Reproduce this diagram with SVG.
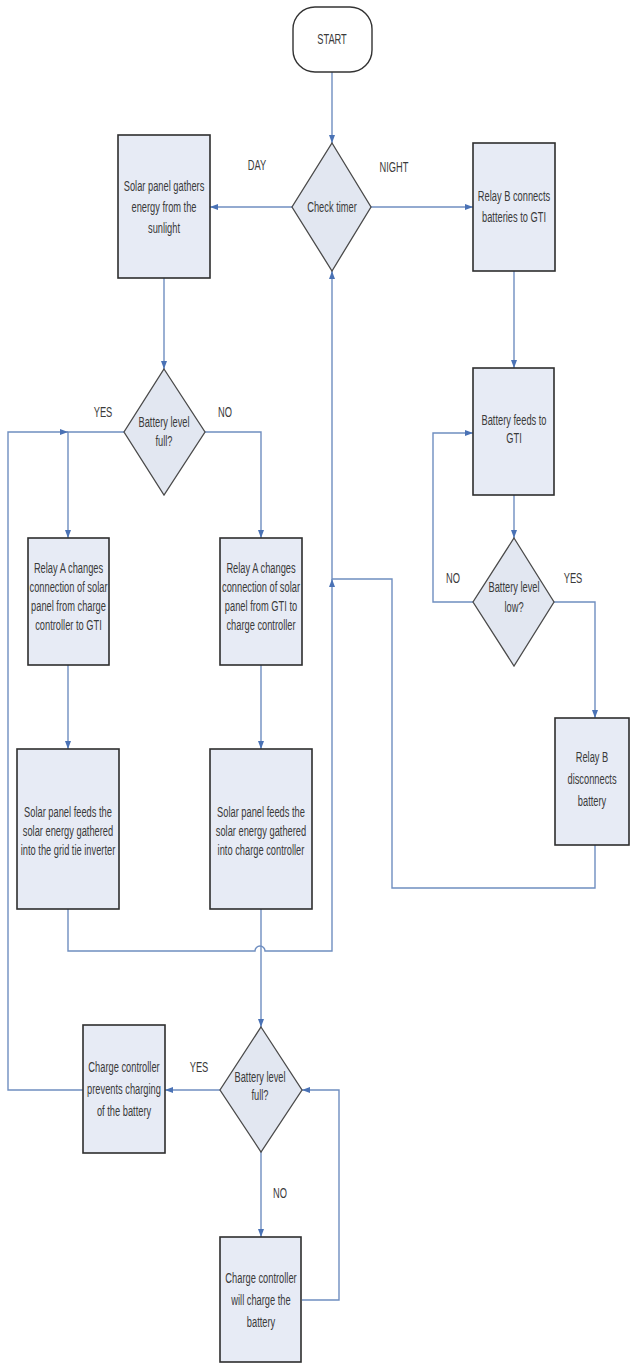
<svg xmlns="http://www.w3.org/2000/svg" width="630" height="1364" viewBox="0 0 630 1364">
<style>
.bg{fill:#ffffff}
.box{fill:#e7ebf5;stroke:#2e2e2e;stroke-width:1.6}
.dia{fill:#e2e7f1;stroke:#4a4a4a;stroke-width:1.3}
.term{fill:#ffffff;stroke:#333333;stroke-width:1.4}
.t{font-family:"Liberation Sans",Arial,sans-serif;font-size:15px;fill:#3a3a3a;text-anchor:middle}
.c{fill:none;stroke:#6f8ec0;stroke-width:1.4}
</style>
<defs>
<marker id="ah" viewBox="0 0 8 6" refX="8" refY="3" markerWidth="8" markerHeight="7" orient="auto" markerUnits="userSpaceOnUse">
<path d="M0 0 L8 3 L0 6 z" fill="#4a72b5"/>
</marker>
</defs>
<rect class="bg" x="0" y="0" width="630" height="1364"/>

<g id="connectors">
<path class="c" d="M332 72 V143" marker-end="url(#ah)"/>
<path class="c" d="M292 207 H210" marker-end="url(#ah)"/>
<path class="c" d="M371 207 H473" marker-end="url(#ah)"/>
<path class="c" d="M164 278 V369" marker-end="url(#ah)"/>
<path class="c" d="M124 432 H68 V538" marker-end="url(#ah)"/>
<path class="c" d="M205 432 H261 V538" marker-end="url(#ah)"/>
<path class="c" d="M68 665 V749" marker-end="url(#ah)"/>
<path class="c" d="M261 665 V749" marker-end="url(#ah)"/>
<path class="c" d="M68 909 V951 H255 A5 5 0 0 1 265 951 H332 V579" marker-end="url(#ah)"/>
<path class="c" d="M595 845 V888 H392 V579 H332 V271" marker-end="url(#ah)"/>
<path class="c" d="M261 909 V1027" marker-end="url(#ah)"/>
<path class="c" d="M220 1090 H165" marker-end="url(#ah)"/>
<path class="c" d="M83 1090 H8 V432 H68" marker-end="url(#ah)"/>
<path class="c" d="M261 1152 V1237" marker-end="url(#ah)"/>
<path class="c" d="M302 1300 H339 V1090 H302" marker-end="url(#ah)"/>
<path class="c" d="M514 271 V368" marker-end="url(#ah)"/>
<path class="c" d="M514 495 V538" marker-end="url(#ah)"/>
<path class="c" d="M473 602 H433 V433 H473" marker-end="url(#ah)"/>
<path class="c" d="M554 602 H595 V718" marker-end="url(#ah)"/>
</g>

<g id="labels">
<text class="t" transform="matrix(0.62 0 0 1 257 0)"><tspan x="0" y="170">DAY</tspan></text>
<text class="t" transform="matrix(0.62 0 0 1 394 0)"><tspan x="0" y="172">NIGHT</tspan></text>
<text class="t" transform="matrix(0.62 0 0 1 103 0)"><tspan x="0" y="417">YES</tspan></text>
<text class="t" transform="matrix(0.62 0 0 1 225 0)"><tspan x="0" y="417">NO</tspan></text>
<text class="t" transform="matrix(0.62 0 0 1 453 0)"><tspan x="0" y="583">NO</tspan></text>
<text class="t" transform="matrix(0.62 0 0 1 573 0)"><tspan x="0" y="583">YES</tspan></text>
<text class="t" transform="matrix(0.62 0 0 1 199 0)"><tspan x="0" y="1072">YES</tspan></text>
<text class="t" transform="matrix(0.62 0 0 1 280 0)"><tspan x="0" y="1198">NO</tspan></text>
</g>

<g id="start">
<rect class="term" x="293" y="7" width="79" height="65" rx="22" ry="22"/>
<text class="t" transform="matrix(0.62 0 0 1 332 0)"><tspan x="0" y="44">START</tspan></text>
</g>

<g id="check-timer">
<polygon class="dia" points="332,143 371,207 332,271 292,207"/>
<text class="t" transform="matrix(0.62 0 0 1 332 0)"><tspan x="0" y="212">Check timer</tspan></text>
</g>

<g id="solar-gathers">
<rect class="box" x="118" y="135" width="92" height="143"/>
<text class="t" transform="matrix(0.62 0 0 1 164 0)"><tspan x="0" y="191">Solar panel gathers</tspan><tspan x="0" y="212">energy from the</tspan><tspan x="0" y="233">sunlight</tspan></text>
</g>

<g id="relay-b-connects">
<rect class="box" x="473" y="143" width="82" height="128"/>
<text class="t" transform="matrix(0.62 0 0 1 514 0)"><tspan x="0" y="201">Relay B connects</tspan><tspan x="0" y="222">batteries to GTI</tspan></text>
</g>

<g id="battery-full-1">
<polygon class="dia" points="164,369 205,432 164,495 124,432"/>
<text class="t" transform="matrix(0.62 0 0 1 164 0)"><tspan x="0" y="427">Battery level</tspan><tspan x="0" y="446">full?</tspan></text>
</g>

<g id="battery-feeds">
<rect class="box" x="473" y="368" width="81" height="127"/>
<text class="t" transform="matrix(0.62 0 0 1 514 0)"><tspan x="0" y="425">Battery feeds to</tspan><tspan x="0" y="443">GTI</tspan></text>
</g>

<g id="battery-low">
<polygon class="dia" points="514,538 554,602 514,666 473,602"/>
<text class="t" transform="matrix(0.62 0 0 1 514 0)"><tspan x="0" y="592">Battery level</tspan><tspan x="0" y="612">low?</tspan></text>
</g>

<g id="relay-a-left">
<rect class="box" x="28" y="538" width="81" height="127"/>
<text class="t" transform="matrix(0.62 0 0 1 68.5 0)"><tspan x="0" y="573">Relay A changes</tspan><tspan x="0" y="592">connection of solar</tspan><tspan x="0" y="611">panel from charge</tspan><tspan x="0" y="630">controller to GTI</tspan></text>
</g>

<g id="relay-a-right">
<rect class="box" x="220" y="538" width="82" height="127"/>
<text class="t" transform="matrix(0.62 0 0 1 261 0)"><tspan x="0" y="573">Relay A changes</tspan><tspan x="0" y="592">connection of solar</tspan><tspan x="0" y="611">panel from GTI to</tspan><tspan x="0" y="630">charge controller</tspan></text>
</g>

<g id="relay-b-disconnects">
<rect class="box" x="555" y="718" width="74" height="127"/>
<text class="t" transform="matrix(0.62 0 0 1 592 0)"><tspan x="0" y="762">Relay B</tspan><tspan x="0" y="784">disconnects</tspan><tspan x="0" y="806">battery</tspan></text>
</g>

<g id="solar-feeds-gti">
<rect class="box" x="17" y="749" width="102" height="160"/>
<text class="t" transform="matrix(0.62 0 0 1 68 0)"><tspan x="0" y="817">Solar panel feeds the</tspan><tspan x="0" y="836">solar energy gathered</tspan><tspan x="0" y="855">into the grid tie inverter</tspan></text>
</g>

<g id="solar-feeds-cc">
<rect class="box" x="210" y="749" width="102" height="160"/>
<text class="t" transform="matrix(0.62 0 0 1 261 0)"><tspan x="0" y="817">Solar panel feeds the</tspan><tspan x="0" y="836">solar energy gathered</tspan><tspan x="0" y="855">into charge controller</tspan></text>
</g>

<g id="battery-full-2">
<polygon class="dia" points="261,1027 302,1090 261,1152 220,1090"/>
<text class="t" transform="matrix(0.62 0 0 1 260 0)"><tspan x="0" y="1082">Battery level</tspan><tspan x="0" y="1100">full?</tspan></text>
</g>

<g id="cc-prevents">
<rect class="box" x="83" y="1025" width="82" height="128"/>
<text class="t" transform="matrix(0.62 0 0 1 124 0)"><tspan x="0" y="1072">Charge controller</tspan><tspan x="0" y="1094">prevents charging</tspan><tspan x="0" y="1116">of the battery</tspan></text>
</g>

<g id="cc-charges">
<rect class="box" x="220" y="1237" width="81" height="125"/>
<text class="t" transform="matrix(0.62 0 0 1 261 0)"><tspan x="0" y="1283">Charge controller</tspan><tspan x="0" y="1305">will charge the</tspan><tspan x="0" y="1327">battery</tspan></text>
</g>
</svg>
